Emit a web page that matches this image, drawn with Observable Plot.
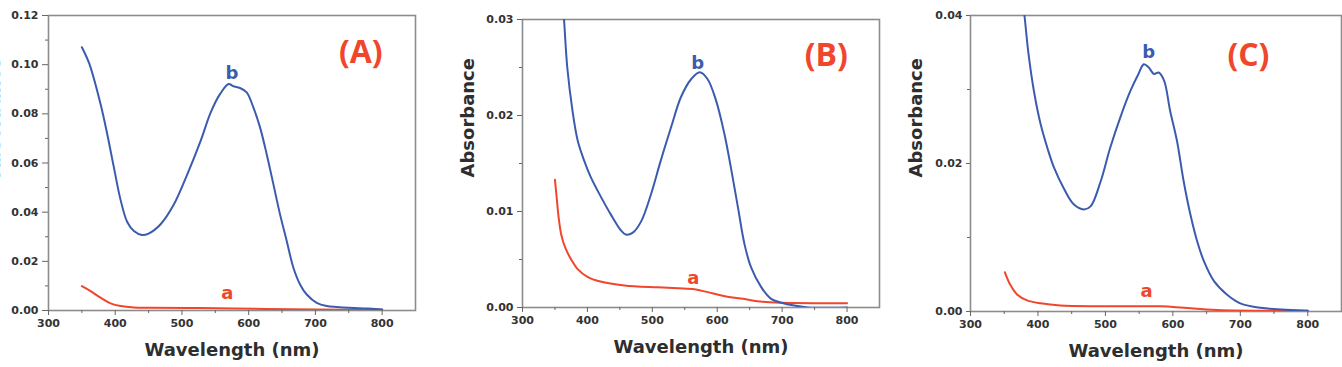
<!DOCTYPE html>
<html>
<head>
<meta charset="utf-8">
<script src="https://cdn.jsdelivr.net/npm/d3@7"></script>
<script src="https://cdn.jsdelivr.net/npm/@observablehq/plot@0.6"></script>
<style>
  body { margin: 0; background: #fff; }
  #fig { position: relative; width: 1342px; height: 367px; overflow: hidden; background: #fff; }
  #fig svg { position: absolute; top: 0; overflow: visible; }
</style>
</head>
<body>
<div id="fig"></div>
<script>
// UV-Vis absorption spectra: wavelength (nm) and absorbance for curves a and b in panels A, B, C

// Panel A
const wlA_b  = [350, 361, 378, 388, 398, 408, 418, 428, 440, 450, 468, 488, 508, 528, 543, 557, 570, 577, 587, 597, 607, 617, 627, 637, 647, 657, 667, 677, 687, 702, 717, 732, 777, 800];
const absA_b = [0.1071, 0.1005, 0.0840, 0.0718, 0.0582, 0.0450, 0.0360, 0.0323, 0.0307, 0.0313, 0.0351, 0.0432, 0.0554, 0.0690, 0.0805, 0.0880, 0.0921, 0.0912, 0.0905, 0.0887, 0.0826, 0.0745, 0.0636, 0.0514, 0.0391, 0.0283, 0.0174, 0.0106, 0.0065, 0.0031, 0.0018, 0.0014, 0.0008, 0.0004];
const wlA_a  = [350, 363, 378, 393, 408, 428, 453, 528, 627, 700, 800];
const absA_a = [0.0099, 0.0079, 0.0052, 0.0029, 0.0018, 0.0012, 0.0011, 0.0010, 0.0006, 0.0004, 0.0003];

// Panel B
const wlB_b  = [350, 357, 364, 369, 377, 385, 395, 405, 421, 436, 452, 459, 470, 483, 498, 513, 529, 544, 560, 573, 585, 598, 611, 621, 632, 642, 652, 668, 683, 699, 719, 740, 800];
const absB_b = [0.047, 0.037, 0.0300, 0.0250, 0.0205, 0.0174, 0.0153, 0.0136, 0.0115, 0.0097, 0.0080, 0.0076, 0.0078, 0.0090, 0.0118, 0.0153, 0.0188, 0.0219, 0.0238, 0.0245, 0.0238, 0.0216, 0.0181, 0.0146, 0.0104, 0.0066, 0.0042, 0.0021, 0.0009, 0.0005, 0.0002, 0.0000, 0.0000];
const wlB_a  = [350, 353, 356, 360, 366, 375, 385, 400, 420, 457, 508, 540, 565, 585, 610, 640, 670, 700, 800];
const absB_a = [0.0133, 0.0112, 0.0092, 0.0075, 0.0062, 0.0050, 0.0040, 0.0032, 0.0027, 0.0023, 0.0021, 0.0020, 0.0019, 0.0016, 0.0012, 0.0009, 0.0006, 0.0005, 0.00045];

// Panel C
const wlC_b  = [350, 365, 380, 386, 394, 404, 414, 424, 438, 453, 468, 478, 493, 507, 522, 537, 549, 557, 564, 572, 579, 587, 596, 606, 616, 626, 636, 646, 661, 680, 700, 730, 800];
const absC_b = [0.066, 0.052, 0.0400, 0.0348, 0.0298, 0.0253, 0.0221, 0.0194, 0.0167, 0.0145, 0.0138, 0.0142, 0.0176, 0.0221, 0.0262, 0.0298, 0.0321, 0.0334, 0.0330, 0.0321, 0.0323, 0.0312, 0.0271, 0.0231, 0.0176, 0.0131, 0.0095, 0.0068, 0.0041, 0.0023, 0.0011, 0.0005, 0.0001];
const wlC_a  = [351, 359, 369, 384, 404, 433, 493, 582, 616, 666, 800];
const absC_a = [0.0053, 0.0036, 0.0023, 0.0015, 0.0011, 0.0008, 0.0007, 0.0007, 0.0005, 0.0002, 0.0001];

// Axis ticks
const xTicks = [300, 400, 500, 600, 700, 800];
const xMinor = [350, 450, 550, 650, 750];
const yTicksA = [0, 0.02, 0.04, 0.06, 0.08, 0.10, 0.12];
const yMinorA = [0.01, 0.03, 0.05, 0.07, 0.09, 0.11];
const yTicksB = [0, 0.01, 0.02, 0.03];
const yMinorB = [0.005, 0.015, 0.025];
const yTicksC = [0, 0.02, 0.04];
const yMinorC = [0.01, 0.03];

// Panel tags and curve labels (wavelength, absorbance)
const panelTags = ["(A)", "(B)", "(C)"];
const tagAt = [[768, 0.105], [768, 0.0262], [712, 0.0346]];
const labelBAt = [[575, 0.0964], [570, 0.0254], [564, 0.0350]];
const labelAAt = [[568, 0.0069], [563, 0.0030], [561, 0.0028]];

const xLabel = "Wavelength (nm)";
const yLabel = "Absorbance";

const BLUE = "#3b5cae";
const RED = "#f0462c";
const FONT = "DejaVu Sans, Verdana, sans-serif";

const toRows = (wl, ab) => wl.map((w, i) => ({wl: w, abs: ab[i]}));

const panels = [
  {left: 0,   width: 440, mt: 15, mb: 57, ml: 48, mr: 25, ymax: 0.12, ticks: yTicksA, minor: yMinorA,
   b: toRows(wlA_b, absA_b), a: toRows(wlA_a, absA_a), ytick: 6},
  {left: 440, width: 450, mt: 19, mb: 60, ml: 82, mr: 11, ymax: 0.03, ticks: yTicksB, minor: yMinorB,
   b: toRows(wlB_b, absB_b), a: toRows(wlB_a, absB_a), ytick: 5},
  {left: 890, width: 452, mt: 15, mb: 56, ml: 80, mr: 1, ymax: 0.04, ticks: yTicksC, minor: yMinorC,
   b: toRows(wlC_b, absC_b), a: toRows(wlC_a, absC_a), ytick: 4}
];

const fig = document.getElementById("fig");

panels.forEach((p, i) => {
  const tickText = {fontSize: 11, fontWeight: "bold", fontFamily: FONT, fill: "#333"};
  const chart = Plot.plot({
    width: p.width,
    height: 367,
    marginLeft: p.ml,
    marginRight: p.mr,
    marginTop: p.mt,
    marginBottom: p.mb,
    style: {background: "transparent", fontFamily: FONT, overflow: "visible"},
    x: {domain: [300, 850]},
    y: {domain: [0, p.ymax]},
    marks: [
      Plot.frame({stroke: "#8c8c8c", strokeWidth: 1.6}),
      Plot.axisX({ticks: xTicks, tickSize: 5, tickPadding: 4, tickFormat: d3.format("d"), label: null, stroke: "#666", ...tickText}),
      Plot.axisX({ticks: xMinor, tickSize: 3, tickFormat: () => "", label: null, stroke: "#666"}),
      Plot.axisY({ticks: p.ticks, tickSize: p.ytick, tickPadding: 4, tickFormat: d3.format(".2f"), label: null, stroke: "#666", ...tickText}),
      Plot.axisY({ticks: p.minor, tickSize: 3, tickFormat: () => "", label: null, stroke: "#666"}),
      Plot.line(p.a, {x: "wl", y: "abs", stroke: RED, strokeWidth: 2, curve: "catmull-rom", clip: true}),
      Plot.line(p.b, {x: "wl", y: "abs", stroke: BLUE, strokeWidth: 2, curve: "catmull-rom", clip: true}),
      Plot.text([labelBAt[i]], {x: d => d[0], y: d => d[1], text: () => "b", fill: BLUE, fontSize: 18, fontWeight: "bold", fontFamily: FONT}),
      Plot.text([labelAAt[i]], {x: d => d[0], y: d => d[1], text: () => "a", fill: RED, fontSize: 18, fontWeight: "bold", fontFamily: FONT}),
      Plot.text([tagAt[i]], {x: d => d[0], y: d => d[1], text: () => panelTags[i], fill: RED, fontSize: 32, fontWeight: "bold", fontFamily: "Open Sans, Lato, sans-serif"}),
      Plot.text([xLabel], {text: d => d, frameAnchor: "bottom", dy: 45, fill: "#2e2e2e", fontSize: 18, fontWeight: "bold", fontFamily: FONT}),
      Plot.text([yLabel], {text: d => d, frameAnchor: "left", rotate: -90, dx: -54, dy: 14, fill: "#2e2e2e", fontSize: 18, fontWeight: "bold", fontFamily: FONT})
    ]
  });
  chart.style.left = p.left + "px";
  fig.appendChild(chart);
});
</script>
</body>
</html>
